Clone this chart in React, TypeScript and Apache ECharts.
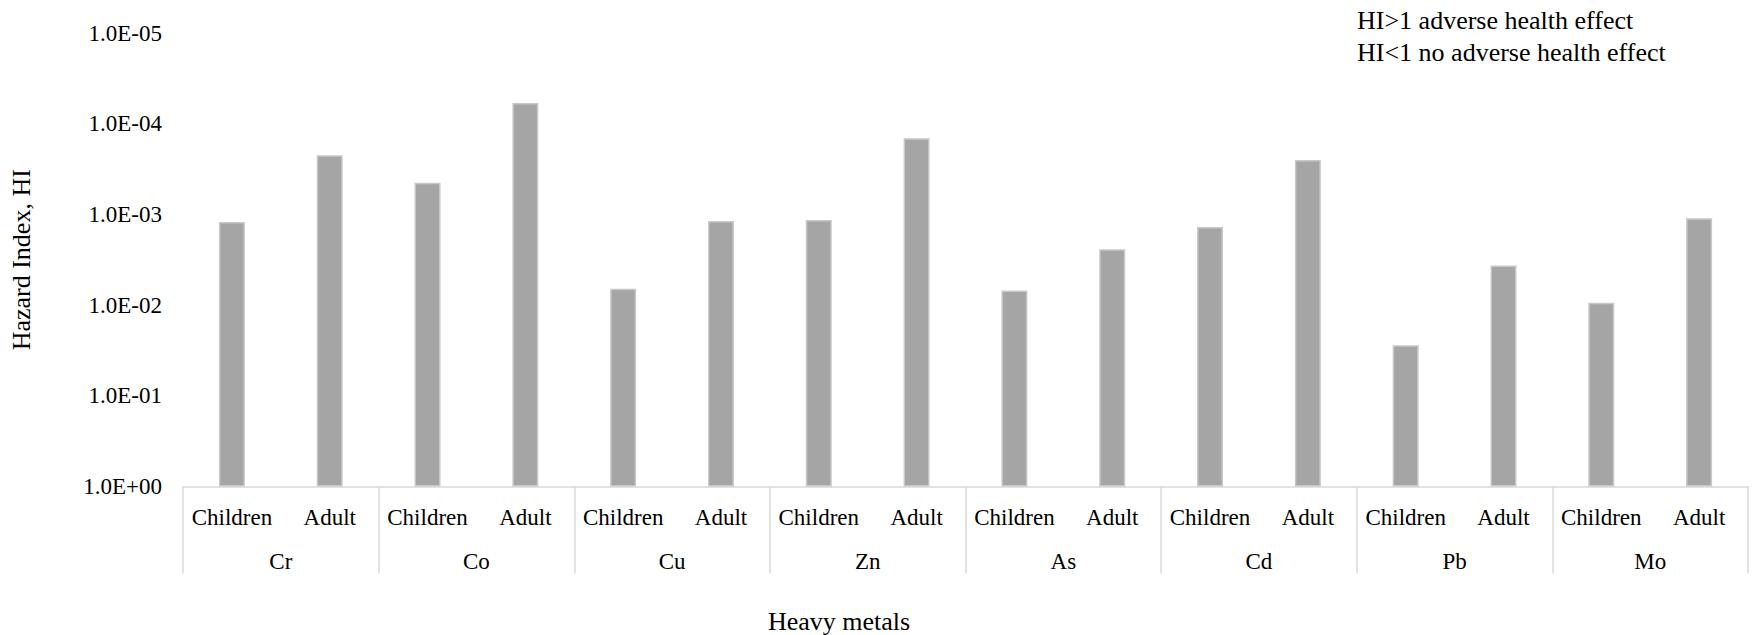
import React, { useEffect, useRef } from 'react';
import * as echarts from 'echarts';

const metals = ['Cr', 'Co', 'Cu', 'Zn', 'As', 'Cd', 'Pb', 'Mo'];
const groups = ['Children', 'Adult'];
const childrenHI = [1.21e-3, 4.48e-4, 6.6e-3, 1.15e-3, 6.9e-3, 1.38e-3, 2.78e-2, 9.4e-3];
const adultHI = [2.23e-4, 5.9e-5, 1.18e-3, 1.45e-4, 2.42e-3, 2.51e-4, 3.66e-3, 1.1e-3];
const yTickLabels = ['1.0E-05', '1.0E-04', '1.0E-03', '1.0E-02', '1.0E-01', '1.0E+00'];
const noteLines = ['HI>1 adverse health effect', 'HI<1 no adverse health effect'];
const yAxisTitle = 'Hazard Index, HI';
const xAxisTitle = 'Heavy metals';

const FONT = 'Liberation Serif';
const FS = 23;
const TFS = 26;

export default function App() {
  const ref = useRef<HTMLDivElement>(null);
  useEffect(() => {
    document.body.style.margin = '0';
    if (!ref.current) return;
    const chart = echarts.init(ref.current, null, { renderer: 'svg' });
    const cats: string[] = [];
    const vals: number[] = [];
    metals.forEach((_, i) => {
      cats.push(groups[0]);
      vals.push(childrenHI[i]);
      cats.push(groups[1]);
      vals.push(adultHI[i]);
    });
    const txt = { color: '#000', fontFamily: FONT, fontSize: FS };
    chart.setOption({
      animation: false,
      backgroundColor: '#ffffff',
      grid: { left: 180, right: 4, top: 33, bottom: 148.5, containLabel: false },
      xAxis: [
        {
          type: 'category',
          data: cats,
          position: 'bottom',
          axisLine: { show: true, lineStyle: { color: '#d9d9d9', width: 1.5 } },
          axisTick: { show: false },
          axisLabel: { interval: 0, ...txt, margin: 19 },
        },
        {
          type: 'category',
          data: metals,
          position: 'bottom',
          axisLine: { show: false },
          axisTick: { show: true, inside: false, length: 87, interval: 0, lineStyle: { color: '#d9d9d9', width: 1.5 } },
          axisLabel: { interval: 0, ...txt, margin: 63 },
        },
      ],
      yAxis: {
        type: 'log',
        logBase: 10,
        min: 1e-5,
        max: 1,
        inverse: true,
        axisLine: { show: false },
        axisTick: { show: false },
        splitLine: { show: false },
        axisLabel: {
          ...txt,
          margin: 21,
          formatter: (v: number) => yTickLabels[Math.round(Math.log10(v)) + 5] ?? '',
        },
        name: yAxisTitle,
        nameLocation: 'middle',
        nameRotate: 90,
        nameGap: 149,
        nameTextStyle: { color: '#000', fontFamily: FONT, fontSize: TFS },
      },
      series: [
        {
          type: 'bar',
          xAxisIndex: 0,
          data: vals,
          barWidth: 26,
          itemStyle: { color: '#a5a5a5', borderColor: '#c8c8c8', borderWidth: 1.5 },
        },
      ],
      graphic: [
        {
          type: 'text',
          x: 839,
          y: 621,
          style: { text: xAxisTitle, fill: '#000', fontFamily: FONT, fontSize: TFS, align: 'center', verticalAlign: 'middle' },
        },
        ...noteLines.map((t, i) => ({
          type: 'text',
          x: 1357,
          y: 20 + i * 32,
          style: { text: t, fill: '#000', fontFamily: FONT, fontSize: TFS, align: 'left', verticalAlign: 'middle' },
        })),
      ],
    });
    return () => chart.dispose();
  }, []);
  return <div ref={ref} style={{ width: 1752, height: 635 }} />;
}
